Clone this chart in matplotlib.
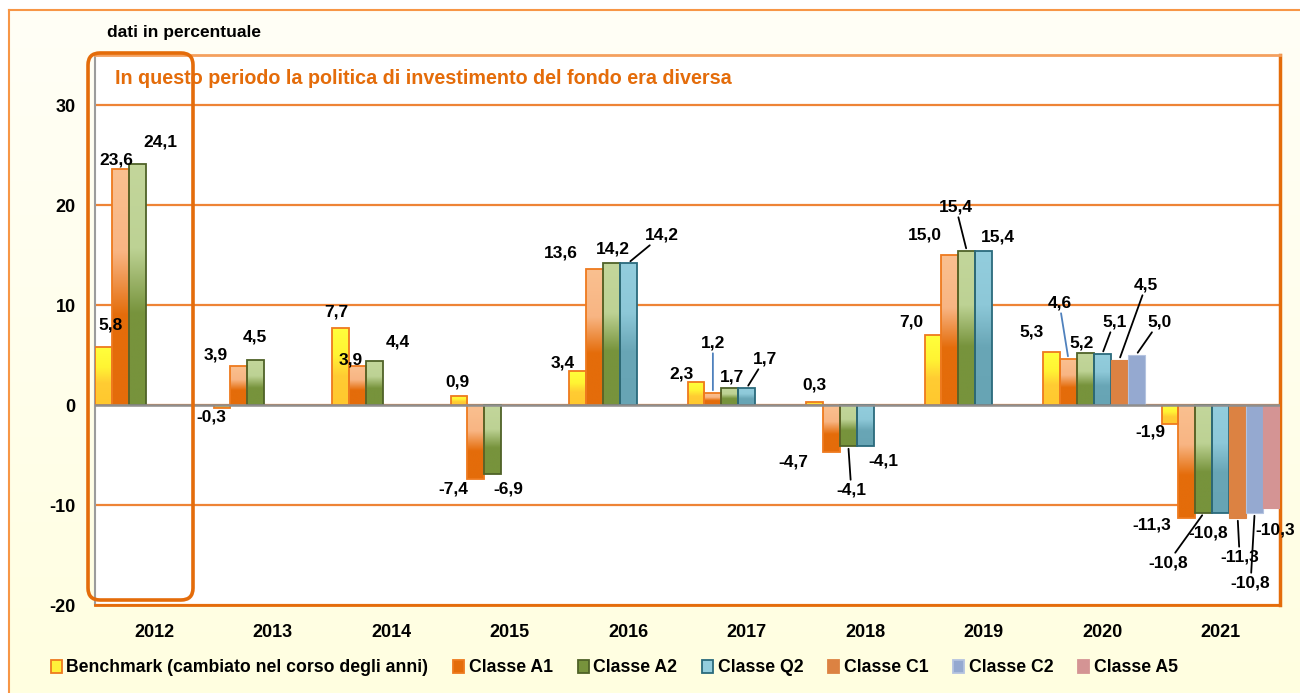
import numpy as np
import matplotlib
matplotlib.use('Agg')
from matplotlib import pyplot as plt
from matplotlib import font_manager
from matplotlib.patches import FancyBboxPatch, Patch
from matplotlib.transforms import IdentityTransform
from matplotlib.colors import LinearSegmentedColormap

nan = np.nan

years = ['2012', '2013', '2014', '2015', '2016', '2017', '2018', '2019', '2020', '2021']
benchmark = [5.8, -0.3, 7.7, 0.9, 3.4, 2.3, 0.3, 7.0, 5.3, -1.9]
classe_a1 = [23.6, 3.9, 3.9, -7.4, 13.6, 1.2, -4.7, 15.0, 4.6, -11.3]
classe_a2 = [24.1, 4.5, 4.4, -6.9, 14.2, 1.7, -4.1, 15.4, 5.2, -10.8]
classe_q2 = [nan, nan, nan, nan, 14.2, 1.7, -4.1, 15.4, 5.1, -10.8]
classe_c1 = [nan, nan, nan, nan, nan, nan, nan, nan, 4.5, -11.3]
classe_c2 = [nan, nan, nan, nan, nan, nan, nan, nan, 5.0, -10.8]
classe_a5 = [nan, nan, nan, nan, nan, nan, nan, nan, nan, -10.3]

series_names = ['Benchmark (cambiato nel corso degli anni)', 'Classe A1', 'Classe A2',
                'Classe Q2', 'Classe C1', 'Classe C2', 'Classe A5']
series_values = [benchmark, classe_a1, classe_a2, classe_q2, classe_c1, classe_c2, classe_a5]

# fill style per series: gradient stops (top -> bottom) or flat colour, plus edge
styles = [
    dict(grad=['#FFFF3C', '#FFF433', '#FFCC33', '#FFC82E'], edge='#EE7A1E', legend='#FFEF3A'),
    dict(grad=['#FAC090', '#F8B583', '#E46C0A', '#E46C0A'], edge='#EE7A1E', legend='#E46C0A'),
    dict(grad=['#C3D69B', '#BDD294', '#77933C', '#77933C'], edge='#4F6228', legend='#77933C'),
    dict(grad=['#93CDDD', '#8DC8D8', '#69A6B6', '#67A4B4'], edge='#2A6A7C', legend='#93CDDD'),
    dict(flat='#DC8242', edge='#DC8242', legend='#DC8242'),
    dict(flat='#95A9D0', edge='#B4C3E0', legend='#95A9D0'),
    dict(flat='#D49494', edge='#D49494', legend='#D49494'),
]

# data label offsets in pixels from bar end (dx, dy), and leader lines
label_offsets = {
    0: [(7, 22), (-11, -9), (-4, 16), (-2, 14), (-15, 8), (-14, 8), (0, 17), (-22, 13), (-20, 20), (-20, -8)],
    1: [(-4, 9), (-23, 11), (-7, 6), (-23, -10), (-34, 16), (0, 50), (-38, -10), (-25, 20), (-9, 56), (-35, -7)],
    2: [(23, 22), (-1, 23), (23, 19), (15, -15), (2, 14), (2, 11), (3, -44), (-11, 44), (-4, 10), (-36, -50)],
    3: {4: (34, 28), 5: (18, 29), 6: (18, -15), 7: (14, 14), 8: (12, 32), 9: (-13, -20)},
    4: {8: (27, 75), 9: (2, -39)},
    5: {8: (23, 33), 9: (-4, -70)},
    6: {9: (4, -22)},
}
leaders = {
    (3, 4): 'black', (1, 5): '#4F81BD', (3, 5): 'black', (2, 6): 'black',
    (2, 7): 'black', (1, 8): '#4F81BD', (3, 8): 'black', (4, 8): 'black',
    (5, 8): 'black', (2, 9): 'black', (4, 9): 'black', (5, 9): 'black',
}

names = {f.name for f in font_manager.fontManager.ttflist}
font = 'Liberation Sans Narrow' if 'Liberation Sans Narrow' in names else 'Liberation Sans'
plt.rcParams['font.family'] = [font, 'DejaVu Sans']
plt.rcParams['font.weight'] = 'bold'

W, H = 1300, 693
fig = plt.figure(figsize=(W / 100, H / 100), dpi=100)
fig.patch.set_facecolor('white')

# cream background panel with orange frame
bg = fig.add_axes([9 / W, 0, 1 - 9 / W, 1 - 10 / H], zorder=-5)
bg_cmap = LinearSegmentedColormap.from_list('bg', ['#FFFEF6', '#FFFEEC', '#FFFFE0'])
bg.imshow(np.linspace(0, 1, 200).reshape(-1, 1), cmap=bg_cmap, aspect='auto', extent=[0, 1, 0, 1])
bg.set_xticks([])
bg.set_yticks([])
for s in ['right', 'bottom']:
    bg.spines[s].set_visible(False)
for s in ['top', 'left']:
    bg.spines[s].set_color('#F79646')
    bg.spines[s].set_linewidth(1.5)

ax = fig.add_axes([95 / W, 1 - 605 / H, (1280 - 95) / W, (605 - 55) / H])
ax.set_facecolor('white')

n = len(series_values)
width = 1 / n
x = np.arange(len(years))
grad = np.linspace(0, 1, 256).reshape(-1, 1)

for i, (vals, st) in enumerate(zip(series_values, styles)):
    pos = x - 0.5 + (i + 0.5) * width
    if 'grad' in st:
        bars = ax.bar(pos, vals, width, facecolor='none', edgecolor=st['edge'], linewidth=1.3, zorder=3)
        cmap = LinearSegmentedColormap.from_list('g%d' % i, list(zip([0, 0.35, 0.62, 1], st['grad'])))
        for rect in bars:
            h = rect.get_height()
            if np.isnan(h):
                continue
            x0, y0, w = rect.get_x(), rect.get_y(), rect.get_width()
            lo, hi = min(y0, y0 + h), max(y0, y0 + h)
            img = ax.imshow(grad, cmap=cmap, aspect='auto', extent=[x0, x0 + w, lo, hi],
                            origin='upper', zorder=2.9, interpolation='bilinear')
            img.set_clip_path(rect)
    else:
        bars = ax.bar(pos, vals, width, color=st['flat'], edgecolor=st['edge'], linewidth=0.8, zorder=3)

    offs = label_offsets[i]
    for j, v in enumerate(vals):
        if np.isnan(v):
            continue
        txt = ('%.1f' % v).replace('.', ',')
        props = None
        if (i, j) in leaders:
            props = dict(arrowstyle='-', color=leaders[(i, j)], lw=1.3, shrinkA=0, shrinkB=2)
        ax.annotate(txt, xy=(pos[j], v), xytext=offs[j], textcoords='offset pixels',
                    ha='center', va='center', fontsize=12.5, fontweight='bold', color='black',
                    arrowprops=props, zorder=6, annotation_clip=False)

ax.set_xlim(-0.5, len(years) - 0.5)
ax.set_ylim(-20, 35)
ax.set_xticks(x)
ax.set_xticklabels(years, fontsize=13, fontweight='bold')
ax.set_yticks([-20, -10, 0, 10, 20, 30])
ax.set_yticklabels(['-20', '-10', '0', '10', '20', '30'], fontsize=13, fontweight='bold')
ax.tick_params(axis='x', length=0, pad=14)
ax.tick_params(axis='y', length=0, pad=14)
ax.set_axisbelow(True)
ax.yaxis.grid(True, color='#EE8436', linewidth=1.6)
ax.axhline(0, color='#8E8E8E', linewidth=1.8, zorder=4)

ax.spines['top'].set_color('#F4A05E')
ax.spines['top'].set_linewidth(2)
ax.spines['right'].set_color('#E46C0A')
ax.spines['right'].set_linewidth(2.5)
ax.spines['bottom'].set_color('#E46C0A')
ax.spines['bottom'].set_linewidth(2)
ax.spines['left'].set_color('#9C9C9C')
ax.spines['left'].set_linewidth(1.5)

ax.text(-0.33, 32.7, 'In questo periodo la politica di investimento del fondo era diversa',
        color='#E46C0A', fontsize=14.2, fontweight='bold', ha='left', va='center', zorder=7)

# rounded frame around 2012
(px0, py0) = ax.transData.transform((-0.559, -19.5))
(px1, py1) = ax.transData.transform((0.327, 35.2))
frame = FancyBboxPatch((px0, py0), px1 - px0, py1 - py0, boxstyle='round,pad=0,rounding_size=12',
                       transform=IdentityTransform(), fill=False, edgecolor='#E46C0A',
                       linewidth=2.6, clip_on=False, zorder=10)
fig.add_artist(frame)

fig.text(107 / W, 1 - 33 / H, 'dati in percentuale', fontsize=12.5, fontweight='bold',
         ha='left', va='center')

handles = []
for st in styles:
    handles.append(Patch(facecolor=st['legend'], edgecolor=st['edge'], linewidth=1.3))
fig.legend(handles, series_names, loc='center left', bbox_to_anchor=(51 / W, 1 - 668 / H),
           ncol=n, frameon=False, prop=dict(size=12.7, weight='bold'), handlelength=0.62,
           handleheight=0.7, handletextpad=0.25, columnspacing=1.42, borderaxespad=0, borderpad=0)

fig.savefig('out.png', dpi=100, facecolor=fig.get_facecolor())
